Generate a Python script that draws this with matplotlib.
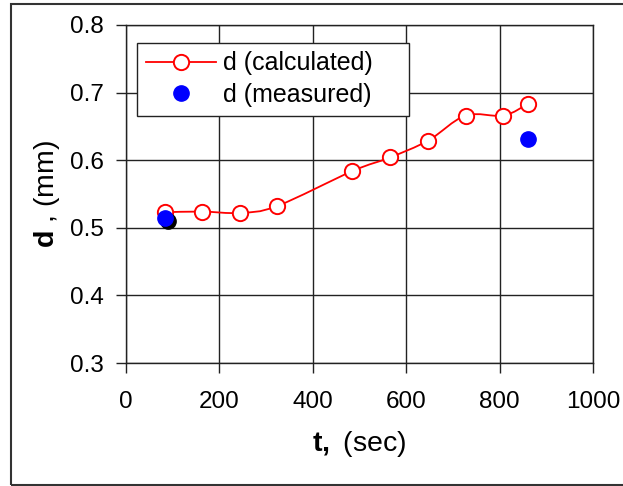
#!/usr/bin/env python3
"""d (calculated) vs d (measured) over time, Excel-style chart."""
import numpy as np
import matplotlib
matplotlib.use("Agg")
import matplotlib.pyplot as plt
from matplotlib.path import Path
from matplotlib.patches import PathPatch, Rectangle
from matplotlib.lines import Line2D

# data
t_calc = [83, 162, 244, 323, 485, 565, 647, 727, 808, 860]
d_calc = [0.523, 0.524, 0.522, 0.532, 0.584, 0.604, 0.629, 0.666, 0.666, 0.683]
t_meas = [83, 860]
d_meas = [0.514, 0.631]
t_extra = [90]          # black dot hidden behind the first blue one
d_extra = [0.510]

x_ticks = [0, 200, 400, 600, 800, 1000]
y_ticks = [0.3, 0.4, 0.5, 0.6, 0.7, 0.8]

plt.rcParams["font.family"] = ["Liberation Sans", "DejaVu Sans"]
plt.rcParams["mathtext.fontset"] = "custom"
plt.rcParams["mathtext.rm"] = "Liberation Sans"
plt.rcParams["mathtext.bf"] = "Liberation Sans:bold"


def smooth_path(x, y):
    # Excel "smoothed line": Catmull-Rom segments as cubic Beziers
    p = np.column_stack([x, y]).astype(float)
    n = len(p)
    verts, codes = [p[0]], [Path.MOVETO]
    for i in range(n - 1):
        p0 = p[max(i - 1, 0)]
        p1, p2 = p[i], p[i + 1]
        p3 = p[min(i + 2, n - 1)]
        verts += [p1 + (p2 - p0) / 6, p2 - (p3 - p1) / 6, p2]
        codes += [Path.CURVE4] * 3
    return Path(verts, codes)


W, H = 623, 486
fig = plt.figure(figsize=(W / 100, H / 100), dpi=100)
ax = fig.add_axes([126 / W, 1 - 363 / H, 467 / W, 338 / H])

ax.add_patch(PathPatch(smooth_path(t_calc, d_calc), facecolor="none",
                       edgecolor="red", lw=1.3, zorder=3))
ax.plot(t_calc, d_calc, ls="none", marker="o", ms=11, mfc="white",
        mec="red", mew=1.4, zorder=4)
ax.plot(t_extra, d_extra, ls="none", marker="o", ms=11, color="black", zorder=5)
ax.plot(t_meas, d_meas, ls="none", marker="o", ms=11, color="blue", zorder=6)

ax.set_xlim(0, 1000)
ax.set_ylim(0.3, 0.8)
ax.set_xticks(x_ticks)
ax.set_yticks(y_ticks)
ax.set_xticklabels([str(v) for v in x_ticks])
ax.set_yticklabels([f"{v:.1f}" for v in y_ticks])
ax.tick_params(labelsize=17.5, length=7, width=1, color="#222222")
ax.tick_params(axis="x", pad=13)
ax.tick_params(axis="y", pad=9)
ax.grid(True, color="#222222", lw=1)
ax.set_axisbelow(True)
for s in ax.spines.values():
    s.set_color("#222222")
    s.set_linewidth(1)

ax.set_xlabel(r"$\mathbf{t,}$ (sec)", fontsize=20.5, labelpad=12)
ax.set_ylabel(r"$\mathbf{d}$ , (mm)", fontsize=20.5, labelpad=6)

handles = [
    Line2D([], [], color="red", lw=1.3, marker="o", ms=11, mfc="white",
           mec="red", mew=1.4),
    Line2D([], [], ls="none", marker="o", ms=11, color="blue"),
]
# legend box spans 137..409 px horizontally in the reference
leg = ax.legend(handles, ["d (calculated)", "d (measured)"], loc="upper left",
                bbox_to_anchor=(11 / 467, 0.948, 272 / 467, 0.0), mode="expand",
                fontsize=18, handlelength=2.8, handletextpad=0.3,
                borderaxespad=0, fancybox=False, framealpha=1,
                edgecolor="#222222", borderpad=0.35, labelspacing=0.3)
leg.get_frame().set_linewidth(1)

# outer frame of the chart area (right edge falls off the picture)
fig.patches.append(Rectangle((11 / W, 1 / H), 2, 481 / H, transform=fig.transFigure,
                             fill=False, edgecolor="#333333", lw=1.5))

fig.savefig("out.png", dpi=100)
